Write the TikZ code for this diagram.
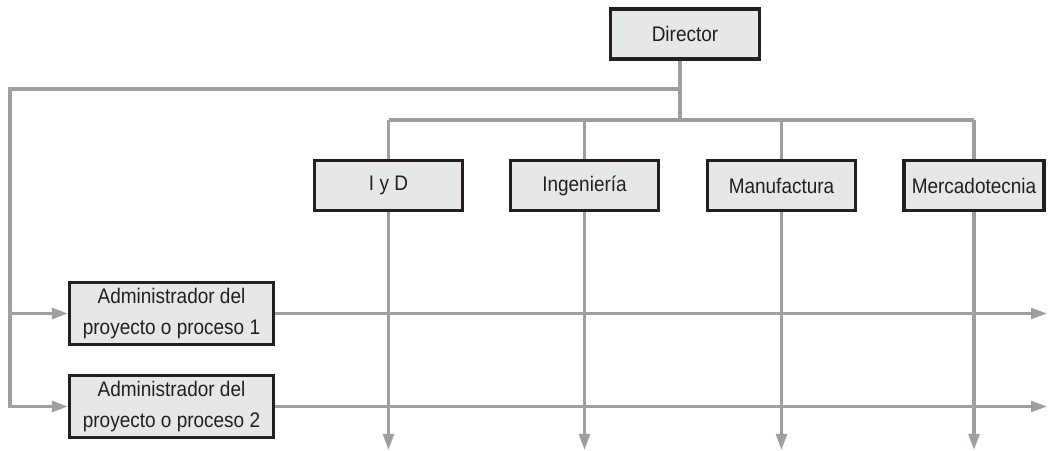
\documentclass[tikz,border=0pt]{standalone}
\usepackage{fontspec}
\setmainfont{Liberation Sans}[FakeStretch=0.9]
\usetikzlibrary{arrows.meta}

\definecolor{linegray}{HTML}{9D9FA2}
\definecolor{boxfill}{HTML}{E6E7E8}
\definecolor{boxdraw}{HTML}{231F20}

\begin{document}
\begin{tikzpicture}[x=0.025cm, y=-0.025cm,
  every node/.style={font=\fontsize{15}{21.5}\selectfont, text=boxdraw},
  box/.style={draw=boxdraw, fill=boxfill, line width=2.3pt, inner sep=0pt,
    minimum width=3.7cm, minimum height=1.25cm, align=center},
  wide/.style={box, minimum width=5.1cm, minimum height=1.55cm},
  link/.style={draw=linegray, line width=2.2pt},
  arr/.style={link, -{Triangle[length=0.4cm, width=0.27cm]}}]
  \useasboundingbox (0,0) rectangle (1050,451);

  % director and departments
  \node[box, minimum width=3.72cm] (dir) at (685,34) {Director};
  \node[box] (idi) at (388.5,185.5) {I y D};
  \node[box] (ing) at (584.5,185.5) {Ingeniería};
  \node[box] (man) at (781.5,185.5) {Manufactura};
  \node[box, minimum width=3.5cm] (mer) at (974,185.5) {Mercadotecnia};

  % project managers
  \node[wide] (adm1) at (171.5,313.5) {Administrador del\\proyecto o proceso 1};
  \node[wide] (adm2) at (171.5,406.5) {Administrador del\\proyecto o proceso 2};

  % helper points
  \coordinate (j1) at ([xshift=-5*0.025cm]dir.south |- 0,89);
  \coordinate (j2) at ([xshift=-5*0.025cm]dir.south |- 0,120);
  \coordinate (lft) at (10,89);
  \coordinate (rgt) at (1047,0);
  \coordinate (bot) at (0,450);

  % director to departments
  \draw[link] ([xshift=-5*0.025cm]dir.south) -- (j2);
  \draw[link] (idi.north |- j2) -- (mer.north |- j2);
  \foreach \d in {idi,ing,man,mer} {
    \draw[link] (\d.north |- j2) -- (\d.north);
    \draw[arr] (\d.south) -- (\d.south |- bot);
  }

  % director to project managers
  \draw[arr] (j1) -- (lft) |- (adm2.west);
  \draw[arr] (lft |- adm1.west) -- (adm1.west);

  % project lines
  \draw[arr] (adm1.east) -- (adm1.east -| rgt);
  \draw[arr] (adm2.east) -- (adm2.east -| rgt);
\end{tikzpicture}
\end{document}
